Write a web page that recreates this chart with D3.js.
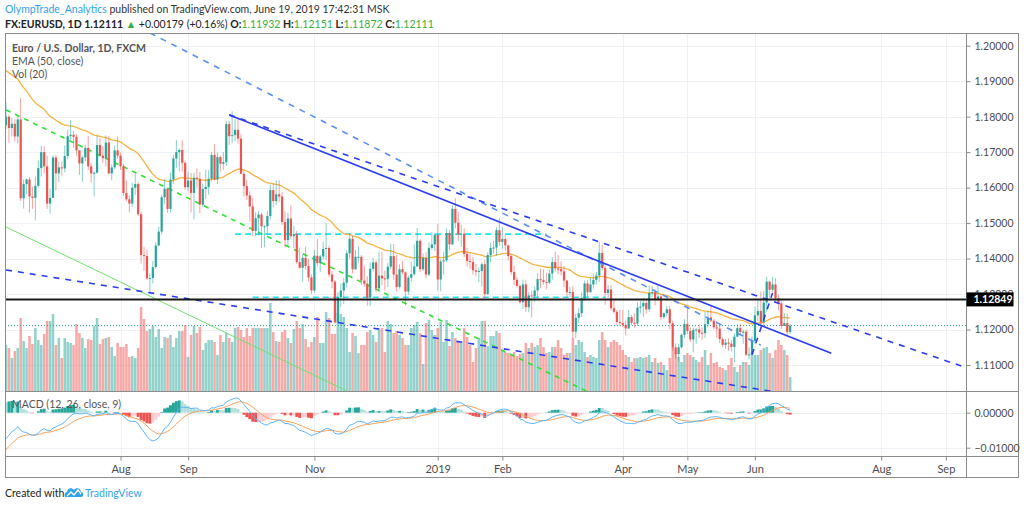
<!DOCTYPE html>
<html>
<head>
<meta charset="utf-8">
<script src="https://cdn.jsdelivr.net/npm/d3@7/dist/d3.min.js"></script>
<style>
  html, body { margin: 0; padding: 0; background: #fff; }
  svg { display: block; font-family: Lato, 'Open Sans', sans-serif; }
</style>
</head>
<body>
<svg id="chart" width="1024" height="507"></svg>
<script>
/* ============================================================
   EUR/USD daily candles, EMA(50), Vol(20), MACD(12,26,9)
   ============================================================ */

// Calendar: FXCM daily bars, weekdays without Christmas / New Year
const firstDay = '2018-06-07';
const holidays = ['2018-12-25', '2019-01-01'];

// OHLC, one entry per trading day (Jun 7 2018 .. Jun 19 2019)
const opens = [
  1.1776,1.1800,1.1768,1.1780,1.1744,1.1792,1.1570,1.1610,1.1623,1.1575,1.1571,1.1605,1.1655,1.1700,1.1660,1.1555,1.1571,
  1.1685,1.1640,1.1657,1.1654,1.1689,1.1745,1.1749,1.1743,1.1705,1.1668,1.1685,1.1712,1.1660,1.1640,1.1642,1.1720,1.1690,1.1683,1.1727,1.1640,1.1657,1.1705,
  1.1690,1.1660,1.1585,1.1567,1.1555,1.1600,1.1610,1.1525,1.1410,1.1407,1.1344,1.1345,1.1376,1.1437,1.1476,1.1573,1.1597,1.1540,1.1623,1.1682,1.1700,1.1706,1.1670,
  1.1601,1.1620,1.1585,1.1628,1.1625,1.1552,1.1596,1.1602,1.1625,1.1692,1.1623,1.1686,1.1667,1.1672,1.1779,1.1745,1.1748,1.1763,1.1738,1.1639,
  1.1604,1.1578,1.1547,1.1478,1.1514,1.1524,1.1491,1.1491,1.1520,1.1593,1.1562,1.1581,1.1575,1.1503,1.1452,1.1513,1.1463,1.1469,1.1390,1.1374,1.1402,1.1379,1.1347,
  1.1310,1.1408,1.1387,1.1406,1.1427,1.1430,1.1355,1.1335,1.1220,1.1291,1.1310,1.1332,1.1415,1.1456,1.1370,1.1405,1.1405,1.1338,1.1329,1.1290,1.1371,1.1389,
  1.1316,1.1352,1.1344,1.1342,1.1377,1.1407,1.1355,1.1320,1.1370,1.1361,1.1307,1.1346,1.1356,1.1378,1.1450,1.1370,1.1402,1.1355,1.1430,1.1440,
  1.1467,1.1341,1.1392,1.1395,1.1472,1.1440,1.1540,1.1501,1.1468,1.1470,1.1413,1.1393,1.1390,1.1367,1.1363,1.1365,1.1384,1.1300,1.1410,1.1430,1.1431,1.1480,
  1.1447,1.1455,1.1437,1.1407,1.1362,1.1340,1.1323,1.1277,1.1327,1.1263,1.1296,1.1294,1.1310,1.1342,1.1339,1.1334,1.1332,1.1358,1.1390,1.1372,
  1.1370,1.1364,1.1338,1.1305,1.1306,1.1194,1.1233,1.1246,1.1288,1.1330,1.1305,1.1327,1.1340,1.1352,1.1416,1.1373,1.1303,1.1313,1.1260,1.1250,1.1221,
  1.1218,1.1213,1.1203,1.1235,1.1219,1.1217,1.1262,1.1265,1.1275,1.1257,1.1303,1.1305,1.1285,1.1293,1.1235,1.1246,1.1257,1.1218,1.1150,1.1131,1.1150,1.1185,
  1.1216,1.1196,1.1172,1.1199,1.1200,1.1191,1.1190,1.1215,1.1234,1.1225,1.1206,1.1203,1.1173,1.1157,1.1163,1.1160,1.1151,1.1180,1.1204,1.1193,1.1194,1.1129,1.1130,
  1.1168,1.1240,1.1252,1.1220,1.1276,1.1335,1.1312,1.1327,1.1288,1.1274,1.1210,1.1218,1.11932
];
const highs = [
  1.1840,1.1805,1.1796,1.1793,1.1800,1.1852,1.1623,1.1626,1.1630,1.1602,1.1631,1.1676,1.1718,1.1716,1.1690,1.1596,1.1691,
  1.1692,1.1673,1.1674,1.1719,1.1764,1.1791,1.1760,1.1750,1.1706,1.1690,1.1721,1.1746,1.1670,1.1646,1.1746,1.1740,1.1717,1.1747,1.1745,1.1665,1.1719,1.1744,
  1.1699,1.1666,1.1620,1.1578,1.1614,1.1640,1.1617,1.1531,1.1432,1.1425,1.1358,1.1393,1.1446,1.1490,1.1580,1.1623,1.1601,1.1642,1.1692,1.1734,1.1710,1.1733,1.1676,
  1.1645,1.1641,1.1642,1.1654,1.1644,1.1611,1.1651,1.1649,1.1701,1.1722,1.1699,1.1690,1.1700,1.1788,1.1788,1.1815,1.1793,1.1798,1.1750,1.1647,
  1.1622,1.1590,1.1571,1.1530,1.1534,1.1530,1.1494,1.1535,1.1609,1.1612,1.1621,1.1621,1.1587,1.1533,1.1529,1.1550,1.1492,1.1478,1.1431,1.1412,1.1433,1.1398,1.1356,
  1.1425,1.1456,1.1410,1.1448,1.1500,1.1437,1.1365,1.1339,1.1306,1.1329,1.1346,1.1424,1.1472,1.1464,1.1425,1.1434,1.1410,1.1380,1.1350,1.1389,1.1402,1.1395,
  1.1420,1.1419,1.1366,1.1388,1.1442,1.1441,1.1410,1.1383,1.1394,1.1364,1.1352,1.1390,1.1440,1.1486,1.1455,1.1415,1.1418,1.1446,1.1475,1.1472,
  1.1497,1.1398,1.1419,1.1484,1.1480,1.1550,1.1570,1.1530,1.1495,1.1485,1.1430,1.1415,1.1405,1.1385,1.1375,1.1389,1.1397,1.1417,1.1445,1.1450,1.1488,1.1514,
  1.1488,1.1466,1.1440,1.1412,1.1380,1.1347,1.1327,1.1341,1.1340,1.1306,1.1310,1.1321,1.1359,1.1372,1.1370,1.1360,1.1369,1.1404,1.1420,1.1410,
  1.1392,1.1378,1.1340,1.1320,1.1322,1.1244,1.1260,1.1305,1.1338,1.1339,1.1345,1.1358,1.1362,1.1448,1.1440,1.1383,1.1325,1.1326,1.1285,1.1255,1.1256,
  1.1255,1.1226,1.1255,1.1241,1.1246,1.1277,1.1281,1.1288,1.1284,1.1324,1.1323,1.1313,1.1323,1.1300,1.1247,1.1266,1.1267,1.1225,1.1161,1.1160,1.1189,1.1229,
  1.1265,1.1205,1.1205,1.1204,1.1215,1.1206,1.1250,1.1253,1.1265,1.1230,1.1225,1.1217,1.1178,1.1173,1.1175,1.1170,1.1189,1.1215,1.1216,1.1200,1.1200,1.1150,1.1181,
  1.1264,1.1285,1.1307,1.1309,1.1348,1.1338,1.1348,1.1344,1.1298,1.1282,1.1247,1.1245,1.12151
];
const lows = [
  1.1765,1.1726,1.1744,1.1730,1.1724,1.1562,1.1541,1.1581,1.1530,1.1540,1.1508,1.1600,1.1631,1.1640,1.1540,1.1527,1.1572,
  1.1591,1.1616,1.1634,1.1643,1.1680,1.1735,1.1712,1.1690,1.1636,1.1616,1.1675,1.1650,1.1614,1.1575,1.1640,1.1687,1.1670,1.1660,1.1638,1.1620,1.1652,1.1682,
  1.1650,1.1576,1.1562,1.1530,1.1545,1.1580,1.1520,1.1386,1.1365,1.1340,1.1301,1.1330,1.1370,1.1435,1.1468,1.1553,1.1529,1.1530,1.1611,1.1655,1.1646,1.1645,1.1594,
  1.1590,1.1530,1.1510,1.1600,1.1528,1.1545,1.1568,1.1580,1.1617,1.1620,1.1610,1.1645,1.1650,1.1660,1.1720,1.1725,1.1730,1.1724,1.1637,1.1575,
  1.1565,1.1505,1.1463,1.1463,1.1465,1.1430,1.1432,1.1470,1.1510,1.1545,1.1550,1.1559,1.1495,1.1432,1.1433,1.1456,1.1429,1.1385,1.1371,1.1335,1.1368,1.1336,1.1300,
  1.1303,1.1378,1.1362,1.1397,1.1395,1.1348,1.1316,1.1216,1.1218,1.1263,1.1272,1.1318,1.1400,1.1358,1.1368,1.1388,1.1325,1.1320,1.1267,1.1266,1.1363,1.1305,
  1.1305,1.1325,1.1310,1.1320,1.1370,1.1340,1.1307,1.1315,1.1355,1.1268,1.1297,1.1336,1.1352,1.1375,1.1362,1.1365,1.1345,1.1350,1.1425,1.1422,
  1.1309,1.1308,1.1354,1.1390,1.1423,1.1438,1.1486,1.1450,1.1434,1.1404,1.1377,1.1371,1.1355,1.1350,1.1334,1.1321,1.1289,1.1297,1.1390,1.1414,1.1408,1.1436,
  1.1428,1.1422,1.1395,1.1355,1.1325,1.1318,1.1273,1.1258,1.1250,1.1249,1.1234,1.1278,1.1290,1.1317,1.1327,1.1314,1.1328,1.1340,1.1364,1.1357,
  1.1353,1.1320,1.1290,1.1292,1.1176,1.1176,1.1219,1.1235,1.1283,1.1290,1.1305,1.1315,1.1327,1.1334,1.1366,1.1270,1.1288,1.1254,1.1245,1.1213,1.1210,
  1.1207,1.1183,1.1202,1.1212,1.1205,1.1210,1.1245,1.1235,1.1245,1.1250,1.1291,1.1268,1.1281,1.1226,1.1230,1.1237,1.1201,1.1140,1.1117,1.1110,1.1146,1.1175,
  1.1187,1.1165,1.1135,1.1160,1.1176,1.1171,1.1176,1.1207,1.1220,1.1201,1.1177,1.1162,1.1150,1.1145,1.1140,1.1138,1.1107,1.1178,1.1187,1.1160,1.1125,1.1116,1.1130,
  1.1160,1.1224,1.1210,1.1210,1.1250,1.1290,1.1305,1.1278,1.1254,1.1202,1.1210,1.1181,1.11872
];
const closes = [
  1.1800,1.1768,1.1780,1.1744,1.1792,1.1570,1.1610,1.1623,1.1575,1.1571,1.1605,1.1655,1.1700,1.1660,1.1555,1.1571,1.1685,
  1.1640,1.1657,1.1654,1.1689,1.1745,1.1749,1.1743,1.1705,1.1668,1.1685,1.1712,1.1660,1.1640,1.1642,1.1720,1.1690,1.1683,1.1727,1.1640,1.1657,1.1705,1.1690,
  1.1660,1.1585,1.1567,1.1555,1.1600,1.1610,1.1525,1.1410,1.1407,1.1344,1.1345,1.1376,1.1437,1.1476,1.1573,1.1597,1.1540,1.1623,1.1682,1.1700,1.1706,1.1670,1.1601,
  1.1620,1.1585,1.1628,1.1625,1.1552,1.1596,1.1602,1.1625,1.1692,1.1623,1.1686,1.1667,1.1672,1.1779,1.1745,1.1748,1.1763,1.1738,1.1639,1.1604,
  1.1578,1.1547,1.1478,1.1514,1.1524,1.1491,1.1491,1.1520,1.1593,1.1562,1.1581,1.1575,1.1503,1.1452,1.1513,1.1463,1.1469,1.1390,1.1374,1.1402,1.1379,1.1347,1.1310,
  1.1408,1.1387,1.1406,1.1427,1.1430,1.1355,1.1335,1.1220,1.1291,1.1310,1.1332,1.1415,1.1456,1.1370,1.1405,1.1405,1.1338,1.1329,1.1290,1.1371,1.1389,1.1316,
  1.1352,1.1344,1.1342,1.1377,1.1407,1.1355,1.1320,1.1370,1.1361,1.1307,1.1346,1.1356,1.1378,1.1450,1.1370,1.1402,1.1355,1.1430,1.1440,1.1467,
  1.1341,1.1392,1.1395,1.1472,1.1440,1.1540,1.1501,1.1468,1.1470,1.1413,1.1393,1.1390,1.1367,1.1363,1.1365,1.1384,1.1300,1.1410,1.1430,1.1431,1.1480,1.1447,
  1.1455,1.1437,1.1407,1.1362,1.1340,1.1323,1.1277,1.1327,1.1263,1.1296,1.1294,1.1310,1.1342,1.1339,1.1334,1.1332,1.1358,1.1390,1.1372,1.1370,
  1.1364,1.1338,1.1305,1.1306,1.1194,1.1233,1.1246,1.1288,1.1330,1.1305,1.1327,1.1340,1.1352,1.1416,1.1373,1.1303,1.1313,1.1260,1.1250,1.1221,1.1218,
  1.1213,1.1203,1.1235,1.1219,1.1217,1.1262,1.1265,1.1275,1.1257,1.1303,1.1305,1.1285,1.1293,1.1235,1.1246,1.1257,1.1218,1.1150,1.1131,1.1150,1.1185,1.1216,
  1.1196,1.1172,1.1199,1.1200,1.1191,1.1190,1.1215,1.1234,1.1225,1.1206,1.1203,1.1173,1.1157,1.1163,1.1160,1.1151,1.1180,1.1204,1.1193,1.1194,1.1129,1.1130,1.1168,
  1.1240,1.1252,1.1220,1.1276,1.1335,1.1312,1.1327,1.1288,1.1274,1.1210,1.1218,1.11932,1.12111
];
// tick volume, thousands
const volumes = [
  46,43,33,40,43,73,50,43,55,47,63,51,46,57,70,70,77,46,53,33,53,49,48,46,67,58,53,43,52,51,
  65,73,47,52,53,54,44,35,48,44,44,47,34,35,33,43,84,72,60,62,65,54,62,43,54,53,56,44,53,60,
  60,66,34,56,65,58,64,41,48,51,51,49,36,56,49,58,53,49,63,64,61,54,63,55,63,63,63,63,63,
  63,88,59,50,49,59,61,53,48,62,70,63,67,52,44,49,54,74,48,48,79,73,57,57,78,77,74,63,39,58,
  55,38,46,46,59,61,56,49,61,63,39,70,67,58,60,56,53,46,46,63,66,69,58,27,68,71,61,56,63,69,
  49,71,45,59,53,49,48,63,54,46,29,43,53,70,70,45,55,55,60,58,40,39,38,37,39,35,37,38,48,43,
  48,44,46,53,44,38,39,44,44,51,43,36,38,38,53,46,51,49,39,34,36,34,33,51,59,51,44,49,51,49,
  46,41,36,34,29,33,33,34,33,34,36,29,33,28,29,26,21,33,44,38,34,29,36,38,36,34,31,29,34,41,
  26,38,28,29,24,23,21,26,33,24,19,26,29,29,26,39,36,36,41,43,44,38,33,41,51,46,41,36,14
];

// indicator state carried in from before the first visible bar
const ema50Seed = 1.1935;
const ema12Seed = 1.1690;
const ema26Seed = 1.1780;
const signalSeed = -0.0112;

// axes
const priceTicks = [1.11, 1.12, 1.13, 1.14, 1.15, 1.16, 1.17, 1.18, 1.19, 1.20];
const macdTicks = [0, -0.01];
const monthLabels = ['Aug', 'Sep', 'Nov', '2019', 'Feb', 'Apr', 'May', 'Jun', 'Aug', 'Sep'];
const monthDays = ['2018-08-01', '2018-09-03', '2018-11-01', '2019-01-02', '2019-02-01',
                   '2019-04-01', '2019-05-01', '2019-06-03', '2019-08-01', '2019-09-02'];
const markedLevel = 1.12849;

// hand drawings: [from day, from price, to day, to price]
const solidTrend = [['2018-09-21', 1.1805, '2019-07-09', 1.1133]];
const darkDashed = [['2018-09-21', 1.1805, '2019-09-10', 1.1095],
                    ['2018-06-07', 1.1368, '2019-06-19', 1.10175],
                    ['2019-05-31', 1.1129, '2019-06-11', 1.1303]];
const lightDashed = [['2018-08-15', 1.2036, '2019-06-05', 1.1156]];
const greenDashed = [['2018-06-07', 1.1819, '2019-03-15', 1.1021]];
const greenSolid = [['2018-06-07', 1.1489, '2018-11-16', 1.1027]];
const cyanLevels = [['2018-09-25', 1.1469, '2019-02-22', 1.1469],
                    ['2018-10-03', 1.1291, '2019-03-22', 1.1291]];

/* ---------------- layout ---------------- */
const left = 5, right = 966.5, frameRight = 1018.5;
const mainTop = 33.5, mainBottom = 391, macdBottom = 456, axisBottom = 477.5;
const step = 2.937;

const UP = '#26a69a', DOWN = '#ef5350';

// trading-day calendar (index -> date string)
const fmt = d3.utcFormat('%Y-%m-%d');
const days = [];
for (let d = new Date(firstDay + 'T00:00:00Z'); days.length < 340; d = d3.utcDay.offset(d, 1)) {
    const wd = d.getUTCDay();
    const s = fmt(d);
    if (wd === 0 || wd === 6 || holidays.includes(s)) continue;
    days.push(s);
}
const dayIndex = new Map(days.map((s, i) => [s, i]));

const x = d3.scaleLinear().domain([0, 327]).range([6, 6 + 327 * step]);
const y = d3.scaleLinear().domain([1.11, 1.20]).range([365, 45.7]);
const yVol = d3.scaleLinear().domain([0, 100]).range([mainBottom, mainBottom - 100]);
const yMacd = d3.scaleLinear().domain([-0.01, 0]).range([447.7, 412.7]);

/* ---------------- indicators ---------------- */
const k = n => 2 / (n + 1);
let e50 = ema50Seed, e12 = ema12Seed, e26 = ema26Seed, sig = signalSeed;
const bars = closes.map((c, i) => {
    e50 += k(50) * (c - e50);
    e12 += k(12) * (c - e12);
    e26 += k(26) * (c - e26);
    const m = e12 - e26;
    sig += k(9) * (m - sig);
    return { i, o: opens[i], h: highs[i], l: lows[i], c, v: volumes[i], ema: e50, macd: m, signal: sig, hist: m - sig };
});
bars.forEach((b, i) => {
    const prev = i > 0 ? bars[i - 1].hist : b.hist;
    if (b.hist >= 0) b.histColor = b.hist > prev ? '#26a69a' : '#b2dfdb';
    else b.histColor = b.hist > prev ? '#ffcdd2' : '#ef5350';
});

/* ---------------- svg ---------------- */
const svg = d3.select('#chart');

const defs = svg.append('defs');
defs.append('clipPath').attr('id', 'clip-main')
    .append('rect').attr('x', left).attr('y', mainTop).attr('width', right - left).attr('height', mainBottom - mainTop);
defs.append('clipPath').attr('id', 'clip-macd')
    .append('rect').attr('x', left).attr('y', mainBottom).attr('width', right - left).attr('height', macdBottom - mainBottom);

// grid
const grid = svg.append('g').attr('stroke', '#eef1f6').attr('stroke-width', 1);
monthDays.forEach(s => {
    const gx = Math.round(x(dayIndex.get(s))) + 0.5;
    grid.append('line').attr('x1', gx).attr('x2', gx).attr('y1', mainTop).attr('y2', macdBottom);
});
priceTicks.forEach(p => {
    const gy = Math.round(y(p)) + 0.5;
    grid.append('line').attr('x1', left).attr('x2', right).attr('y1', gy).attr('y2', gy);
});
macdTicks.forEach(p => {
    const gy = Math.round(yMacd(p)) + 0.5;
    grid.append('line').attr('x1', left).attr('x2', right).attr('y1', gy).attr('y2', gy);
});

/* ---------- main pane ---------- */
const main = svg.append('g').attr('clip-path', 'url(#clip-main)');

// volume columns
main.append('g').selectAll('rect')
    .data(bars)
    .enter()
    .append('rect')
    .attr('x', d => x(d.i) - step / 2 + 0.2)
    .attr('width', step - 0.4)
    .attr('y', d => yVol(d.v))
    .attr('height', d => yVol(0) - yVol(d.v))
    .attr('fill', d => d.c >= d.o ? UP : DOWN)
    .attr('fill-opacity', 0.5);

// last price line (dotted)
main.append('line')
    .attr('x1', left).attr('x2', right)
    .attr('y1', y(closes[closes.length - 1])).attr('y2', y(closes[closes.length - 1]))
    .attr('stroke', UP).attr('stroke-width', 1).attr('stroke-dasharray', '1,2');

// drawing helper
function drawLines(g, list, color, width, dash) {
    g.selectAll(null)
        .data(list)
        .enter()
        .append('line')
        .attr('x1', d => x(dayIndex.get(d[0])))
        .attr('y1', d => y(d[1]))
        .attr('x2', d => x(dayIndex.get(d[2])))
        .attr('y2', d => y(d[3]))
        .attr('stroke', color)
        .attr('stroke-width', width)
        .attr('stroke-dasharray', dash);
}

const drawings = main.append('g').attr('fill', 'none');
drawLines(drawings, greenSolid, '#72e06c', 1, null);
drawLines(drawings, greenDashed, '#2fe02f', 1.6, '5,5');
drawLines(drawings, cyanLevels, '#1fe3f0', 1.6, '6,4');

// EMA 50
main.append('path')
    .datum(bars)
    .attr('fill', 'none')
    .attr('stroke', '#f5b342')
    .attr('stroke-width', 1.3)
    .attr('d', d3.line().x(d => x(d.i)).y(d => y(d.ema)));

// candles
const candles = main.append('g').selectAll('g')
    .data(bars)
    .enter()
    .append('g');
candles.append('line')
    .attr('x1', d => x(d.i)).attr('x2', d => x(d.i))
    .attr('y1', d => y(d.h)).attr('y2', d => y(d.l))
    .attr('stroke', d => d.c >= d.o ? UP : DOWN)
    .attr('stroke-opacity', 0.55)
    .attr('stroke-width', 1);
candles.append('rect')
    .attr('x', d => x(d.i) - 1.1)
    .attr('width', 2.2)
    .attr('y', d => y(Math.max(d.o, d.c)))
    .attr('height', d => Math.max(1, Math.abs(y(d.o) - y(d.c))))
    .attr('fill', d => d.c >= d.o ? UP : DOWN);

// blue trend lines on top
const trends = main.append('g').attr('fill', 'none');
drawLines(trends, lightDashed, '#5b8ef0', 1.6, '6,6');
drawLines(trends, darkDashed, '#2b3cf0', 1.6, '6,6');
drawLines(trends, solidTrend, '#2b3cf0', 1.6, null);

// marked horizontal level
main.append('line')
    .attr('x1', left).attr('x2', right)
    .attr('y1', y(markedLevel)).attr('y2', y(markedLevel))
    .attr('stroke', '#1a1a1a').attr('stroke-width', 2);

/* ---------- MACD pane ---------- */
const macd = svg.append('g').attr('clip-path', 'url(#clip-macd)');
macd.append('g').selectAll('rect')
    .data(bars)
    .enter()
    .append('rect')
    .attr('x', d => x(d.i) - step / 2)
    .attr('width', step)
    .attr('y', d => Math.min(yMacd(0), yMacd(d.hist)))
    .attr('height', d => Math.abs(yMacd(d.hist) - yMacd(0)))
    .attr('fill', d => d.histColor);
macd.append('path')
    .datum(bars)
    .attr('fill', 'none').attr('stroke', '#f7a05c').attr('stroke-width', 1)
    .attr('d', d3.line().x(d => x(d.i)).y(d => yMacd(d.signal)));
macd.append('path')
    .datum(bars)
    .attr('fill', 'none').attr('stroke', '#5fb4f6').attr('stroke-width', 1)
    .attr('d', d3.line().x(d => x(d.i)).y(d => yMacd(d.macd)));

/* ---------- frame ---------- */
const frame = svg.append('g').attr('stroke', '#8c8c8c').attr('stroke-width', 1).attr('fill', 'none');
frame.append('rect').attr('x', left + 0.5).attr('y', mainTop).attr('width', frameRight - left - 0.5).attr('height', axisBottom - mainTop);
frame.append('line').attr('x1', left).attr('x2', frameRight).attr('y1', mainBottom + 0.5).attr('y2', mainBottom + 0.5);
frame.append('line').attr('x1', left).attr('x2', frameRight).attr('y1', macdBottom + 0.5).attr('y2', macdBottom + 0.5);
frame.append('line').attr('x1', right).attr('x2', right).attr('y1', mainTop).attr('y2', axisBottom);

/* ---------- price axis ---------- */
const axisText = '#4d4d4d';
const priceFmt = d3.format('.5f');
const priceAxis = svg.append('g')
    .attr('transform', `translate(${right},0)`)
    .call(d3.axisRight(y).tickValues(priceTicks).tickFormat(priceFmt).tickSize(4).tickPadding(4));
priceAxis.select('.domain').remove();
priceAxis.selectAll('line').attr('stroke', '#8c8c8c');
priceAxis.selectAll('text').attr('fill', axisText).attr('font-size', 10.5).attr('font-family', 'Lato, sans-serif');

const macdAxis = svg.append('g')
    .attr('transform', `translate(${right},0)`)
    .call(d3.axisRight(yMacd).tickValues(macdTicks)
        .tickFormat(d => priceFmt(d).replace('-', '\u2212'))
        .tickSize(4).tickPadding(4));
macdAxis.select('.domain').remove();
macdAxis.selectAll('line').attr('stroke', '#8c8c8c');
macdAxis.selectAll('text').attr('fill', axisText).attr('font-size', 10.5).attr('font-family', 'Lato, sans-serif');

// marked level label
const lvY = y(markedLevel);
svg.append('rect').attr('x', right).attr('y', lvY - 7).attr('width', 47).attr('height', 14).attr('fill', '#000');
svg.append('text').attr('x', right + 7).attr('y', lvY + 4)
    .attr('fill', '#fff').attr('font-size', 10.5).attr('font-weight', 700).attr('font-family', 'Lato, sans-serif')
    .text(priceFmt(markedLevel));

/* ---------- time axis ---------- */
const timeAxis = svg.append('g')
    .attr('transform', `translate(0,${macdBottom + 0.5})`)
    .call(d3.axisBottom(x)
        .tickValues(monthDays.map(s => dayIndex.get(s)))
        .tickFormat((d, i) => monthLabels[i])
        .tickSize(4).tickPadding(5));
timeAxis.select('.domain').remove();
timeAxis.selectAll('line').attr('stroke', '#8c8c8c');
timeAxis.selectAll('text').attr('fill', axisText).attr('font-size', 11).attr('font-family', 'Lato, sans-serif');

/* ---------- legends ---------- */
const legend = svg.append('g').attr('font-size', 10.5).attr('fill', '#555');
legend.append('text').attr('x', 12).attr('y', 51.5).attr('font-weight', 700).text('Euro / U.S. Dollar, 1D, FXCM');
legend.append('text').attr('x', 12).attr('y', 65).text('EMA (50, close)');
legend.append('text').attr('x', 12).attr('y', 78).text('Vol (20)');
legend.append('text').attr('x', 12).attr('y', 408).text('MACD (12, 26, close, 9)');

/* ---------- header ---------- */
const green = '#35b03e';
const h1 = svg.append('text').attr('x', 5).attr('y', 13).attr('font-size', 10.5).attr('fill', '#333');
h1.append('tspan').attr('fill', '#2fa4e7').text('OlympTrade_Analytics');
h1.append('tspan').text(' published on TradingView.com, June 19, 2019 17:42:31 MSK');

const h2 = svg.append('text').attr('x', 5).attr('y', 27.5).attr('font-size', 10.5).attr('fill', '#222').attr('font-weight', 700);
h2.append('tspan').text('FX:EURUSD, 1D  1.12111 ');
h2.append('tspan').attr('fill', green).text('\u25B2');
h2.append('tspan').attr('font-weight', 400).text(' +0.00179 (+0.16%) ');
[['O:', '1.11932'], ['H:', '1.12151'], ['L:', '1.11872'], ['C:', '1.12111']].forEach(([lab, val], i) => {
    h2.append('tspan').text((i ? ' ' : '') + lab);
    h2.append('tspan').attr('fill', green).attr('font-weight', 400).text(val);
});

/* ---------- footer ---------- */
svg.append('text').attr('x', 5).attr('y', 497).attr('font-size', 10.5).attr('fill', '#222').text('Created with');
const logo = svg.append('g').attr('transform', 'translate(65,486)');
logo.append('path')
    .attr('d', 'M1,11 C-1,11 -1,6 2,6 C2,2 7,1 9,4 C11,1 16,2 16,6 C19,6 19,11 16,11 Z')
    .attr('fill', '#2fa4e7');
logo.append('path')
    .attr('d', 'M2,10 L6,6 L9,9 L13,4 L16,8')
    .attr('fill', 'none').attr('stroke', '#fff').attr('stroke-width', 1.4);
svg.append('text').attr('x', 85).attr('y', 497).attr('font-size', 10.5).attr('fill', '#2fa4e7').text('TradingView');
</script>
</body>
</html>
